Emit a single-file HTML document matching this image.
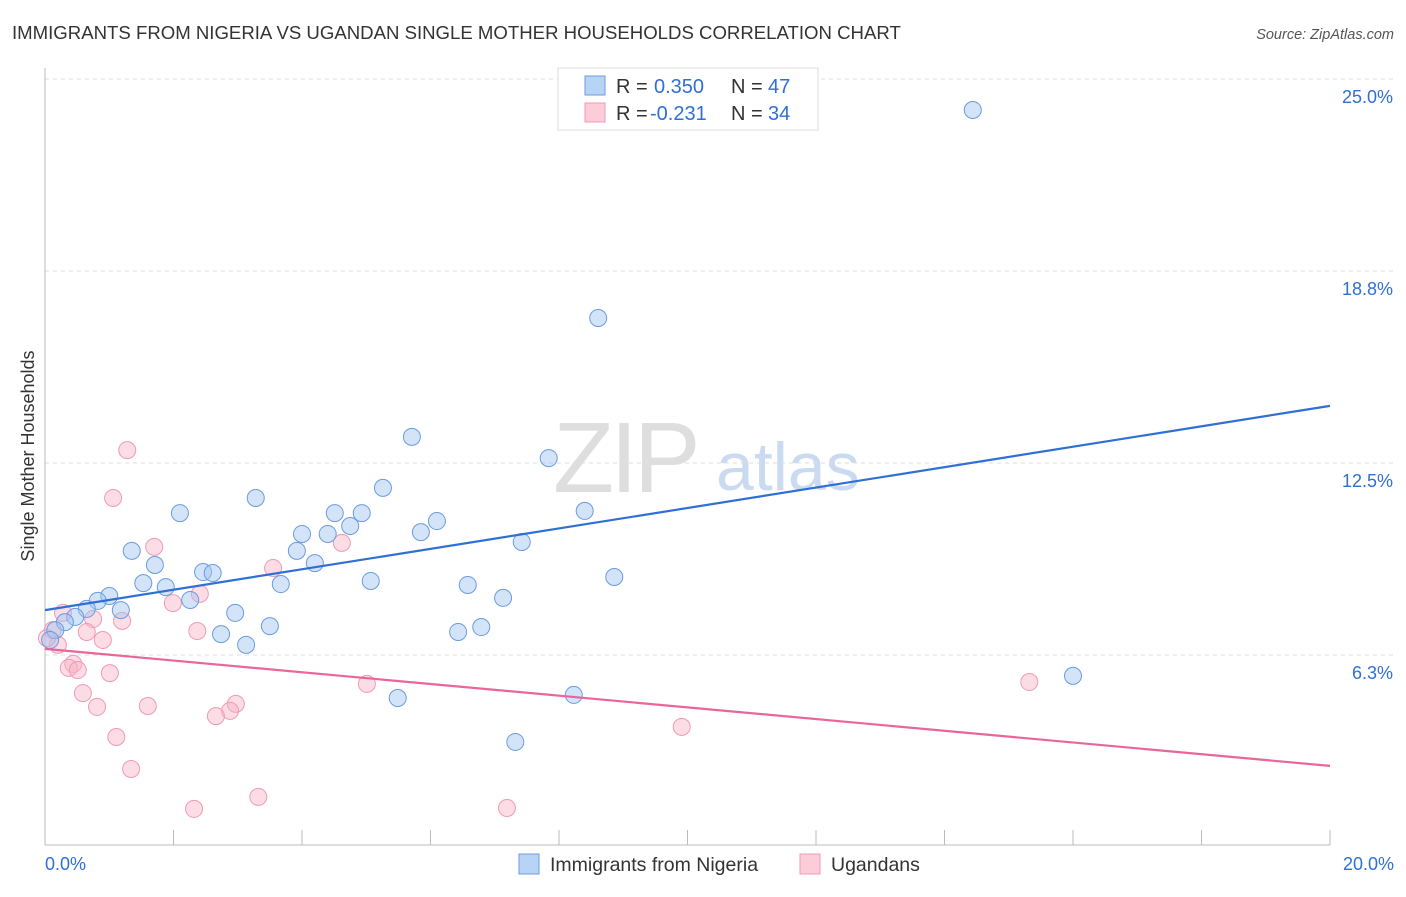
<!DOCTYPE html>
<html><head><meta charset="utf-8"><style>
body{margin:0;background:#fff;font-family:"Liberation Sans",sans-serif;}
svg text{font-family:"Liberation Sans",sans-serif;}
</style></head><body>
<svg id="chart" width="1406" height="892" xmlns="http://www.w3.org/2000/svg">
<text x="12" y="39" font-size="18.6" fill="#333">IMMIGRANTS FROM NIGERIA VS UGANDAN SINGLE MOTHER HOUSEHOLDS CORRELATION CHART</text>
<text x="1394" y="39" font-size="14.5" fill="#555" text-anchor="end" font-style="italic">Source: ZipAtlas.com</text>
<text x="553" y="492" font-size="100" fill="#dedede" font-family="Liberation Serif" letter-spacing="-4">ZIP</text>
<text x="716" y="490" font-size="68" fill="#cadbf1">atlas</text>
<g id="grid"></g>
<g id="axes"></g>
<g id="marks"></g>
<text transform="translate(34,456) rotate(-90)" font-size="18" fill="#333" text-anchor="middle">Single Mother Households</text>
<g>
<rect x="558" y="68" width="260" height="62" fill="#fff" stroke="#ddd"/>
<rect x="585" y="76" width="20" height="19" fill="#b8d4f4" stroke="#6a9be0"/>
<rect x="585" y="103" width="20" height="19" fill="#fcccd9" stroke="#f09ab5"/>
<text x="616" y="93" font-size="20" fill="#333">R =</text>
<text x="654" y="93" font-size="20" fill="#2f6fd6">0.350</text>
<text x="731" y="93" font-size="20" fill="#333">N =</text>
<text x="768" y="93" font-size="20" fill="#2f6fd6">47</text>
<text x="616" y="120" font-size="20" fill="#333">R =</text>
<text x="650" y="120" font-size="20" fill="#2f6fd6">-0.231</text>
<text x="731" y="120" font-size="20" fill="#333">N =</text>
<text x="768" y="120" font-size="20" fill="#2f6fd6">34</text>
</g>
<g>
<rect x="519" y="854" width="20" height="20" fill="#b8d4f4" stroke="#6a9be0"/>
<text x="550" y="871" font-size="19.5" fill="#333">Immigrants from Nigeria</text>
<rect x="800" y="854" width="20" height="20" fill="#fcccd9" stroke="#f09ab5"/>
<text x="831" y="871" font-size="19.5" fill="#333">Ugandans</text>
</g>
</svg>
<script>
const blueX=[14.44,8.61,5.71,7.84,5.26,3.28,2.10,8.40,4.51,4.93,6.10,4.75,5.85,4.00,4.40,1.35,3.92,7.42,4.20,1.71,2.46,2.61,1.53,1.88,3.67,5.07,6.58,8.86,1.00,0.82,2.26,1.18,0.65,7.13,2.96,0.47,0.31,3.50,6.79,6.43,2.74,0.16,3.13,0.08,16.00,5.49,8.23,7.32];
const blueY=[23.99,17.22,13.35,12.66,11.69,11.36,10.87,10.94,10.87,10.87,10.61,10.45,10.25,10.19,10.19,9.64,9.64,9.93,9.24,9.18,8.95,8.92,8.59,8.46,8.56,8.66,8.53,8.79,8.17,8.01,8.04,7.71,7.75,8.11,7.62,7.49,7.32,7.19,7.16,7.00,6.93,7.06,6.58,6.74,5.57,4.85,4.95,3.42];
const pinkX=[1.28,1.06,1.70,4.62,3.55,2.41,1.99,0.28,0.75,1.20,0.65,2.37,0.90,0.12,0.20,0.03,0.44,0.37,0.51,1.01,5.01,15.32,0.59,0.81,1.60,2.97,2.88,2.66,9.91,1.11,1.34,2.32,3.32,7.19];
const pinkY=[12.92,11.36,9.77,9.90,9.08,8.24,7.94,7.62,7.42,7.36,7.00,7.03,6.74,7.06,6.58,6.80,5.96,5.83,5.76,5.66,5.31,5.37,5.01,4.56,4.59,4.66,4.43,4.26,3.91,3.58,2.54,1.24,1.63,1.27];
const blueTrend=[7.71,14.36];
const pinkTrend=[6.45,2.64];
const yTicks=[6.25,12.5,18.75,25];
const yTickLabels=["6.3%","12.5%","18.8%","25.0%"];
const xTicks=[0,2,4,6,8,10,12,14,16,18,20];
const xTickLabels=["0.0%","20.0%"];
const NS="http://www.w3.org/2000/svg";
const sx=v=>45+v*64.25, sy=v=>847-v*30.72;
function mk(parent,tag,attrs){const e=document.createElementNS(NS,tag);for(const k in attrs)e.setAttribute(k,attrs[k]);document.getElementById(parent).appendChild(e);return e;}
yTicks.forEach((t,i)=>{
 const l=mk('grid','line',{x1:45,x2:1394,y1:sy(t),y2:sy(t),stroke:'#ddd','stroke-dasharray':'4,4'});
 
 
 const tx=mk('axes','text',{x:1393,y:sy(t)+24,'font-size':18,fill:'#2f6fd6','text-anchor':'end'});
 tx.textContent=yTickLabels[i];
 
 
});
const ax=mk('axes','line',{x1:45,x2:1330,y1:845,y2:845,stroke:'#bbb'});


const ay=mk('axes','line',{x1:45,x2:45,y1:68,y2:845,stroke:'#bbb'});


xTicks.forEach(t=>{
 const l=mk('axes','line',{x1:sx(t),x2:sx(t),y1:830,y2:845,stroke:'#bbb'});
 
 
});
const xl0=mk('axes','text',{x:45,y:870,'font-size':18,fill:'#2f6fd6'});
xl0.textContent=xTickLabels[0];


const xl1=mk('axes','text',{x:1394,y:870,'font-size':18,fill:'#2f6fd6','text-anchor':'end'});
xl1.textContent=xTickLabels[1];


pinkX.forEach((x,i)=>{
 const c=mk('marks','circle',{cx:sx(x),cy:sy(pinkY[i]),r:8.5,fill:'rgba(248,180,200,0.45)',stroke:'#f09ab5','stroke-width':1});
 
 
});
blueX.forEach((x,i)=>{
 const c=mk('marks','circle',{cx:sx(x),cy:sy(blueY[i]),r:8.5,fill:'rgba(160,196,240,0.45)',stroke:'#6a9be0','stroke-width':1});
 
 
});
const bl=mk('marks','line',{x1:sx(0),y1:sy(blueTrend[0]),x2:sx(20),y2:sy(blueTrend[1]),stroke:'#2f6fd6','stroke-width':2.2});


const pl=mk('marks','line',{x1:sx(0),y1:sy(pinkTrend[0]),x2:sx(20),y2:sy(pinkTrend[1]),stroke:'#e8669a','stroke-width':2.2});


</script>
</body></html>
